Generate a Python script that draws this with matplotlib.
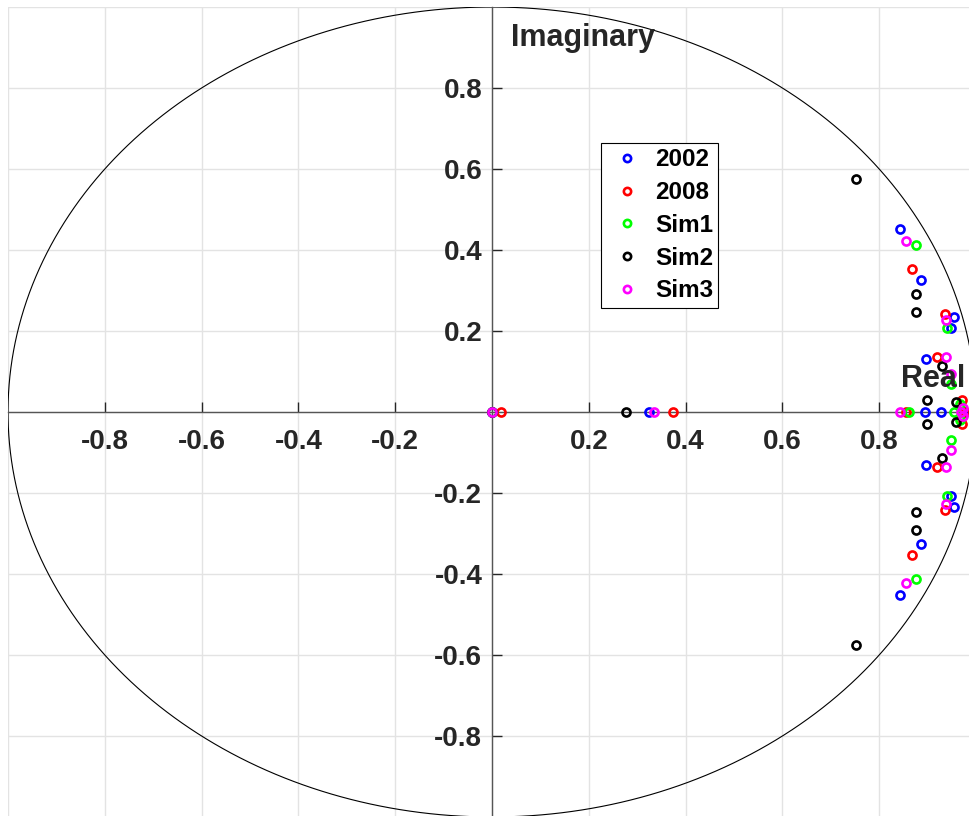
import numpy as np
import matplotlib
matplotlib.use("Agg")
from matplotlib import pyplot as plt

plt.rcParams['font.family'] = ['Liberation Sans', 'DejaVu Sans']

# eigenvalues (real, imag); complex ones come in conjugate pairs
series = ['2002', '2008', 'Sim1', 'Sim2', 'Sim3']
colors = ['#0000ff', '#ff0000', '#00ff00', '#000000', '#ff00ff']

real_2002 = [0.0, 0.324, 0.894, 0.928, 0.975]
pair_re_2002 = [0.842, 0.886, 0.955, 0.948, 0.897]
pair_im_2002 = [0.452, 0.327, 0.235, 0.207, 0.130]

real_2008 = [0.018, 0.374, 0.856, 0.978]
pair_re_2008 = [0.867, 0.936, 0.920, 0.972]
pair_im_2008 = [0.352, 0.241, 0.136, 0.029]

real_sim1 = [0.0, 0.862, 0.955]
pair_re_sim1 = [0.877, 0.940, 0.948, 0.966]
pair_im_sim1 = [0.412, 0.208, 0.070, 0.020]

real_sim2 = [0.0, 0.276]
pair_re_sim2 = [0.753, 0.875, 0.876, 0.929, 0.899, 0.958]
pair_im_sim2 = [0.575, 0.291, 0.246, 0.114, 0.029, 0.024]

real_sim3 = [0.0, 0.334, 0.843, 0.968]
pair_re_sim3 = [0.855, 0.937, 0.937, 0.949, 0.974]
pair_im_sim3 = [0.422, 0.227, 0.137, 0.095, 0.010]

reals = [real_2002, real_2008, real_sim1, real_sim2, real_sim3]
pair_re = [pair_re_2002, pair_re_2008, pair_re_sim1, pair_re_sim2, pair_re_sim3]
pair_im = [pair_im_2002, pair_im_2008, pair_im_sim1, pair_im_sim2, pair_im_sim3]

xticks = [-0.8, -0.6, -0.4, -0.2, 0.2, 0.4, 0.6, 0.8]
yticks = [-0.8, -0.6, -0.4, -0.2, 0.2, 0.4, 0.6, 0.8]
grid_pos = [-1, -0.8, -0.6, -0.4, -0.2, 0, 0.2, 0.4, 0.6, 0.8, 1]

W, H = 969, 816
fig = plt.figure(figsize=(W / 100, H / 100), dpi=100)
ax = fig.add_axes([8 / W, (H - 817) / H, 968 / W, 810 / H])
ax.set_xlim(-1, 1)
ax.set_ylim(-1, 1)

for g in grid_pos:
    ax.axvline(g, color='#e3e3e3', lw=1.0, zorder=0)
    ax.axhline(g, color='#e3e3e3', lw=1.0, zorder=0)

t = np.linspace(0, 2 * np.pi, 600)
ax.plot(np.cos(t), np.sin(t), color='black', lw=0.8, zorder=1)

for name, c, r, pr, pi in zip(series, colors, reals, pair_re, pair_im):
    re = list(r) + list(pr) + list(pr)
    im = [0.0] * len(r) + list(pi) + [-v for v in pi]
    ax.plot(re, im, 'o', mfc='none', mec=c, ms=5.8, mew=1.9, label=name, zorder=3)

for s in ['top', 'right']:
    ax.spines[s].set_visible(False)
ax.spines['left'].set_position(('data', 0))
ax.spines['bottom'].set_position(('data', 0))
for s in ['left', 'bottom']:
    ax.spines[s].set_color('#555555')
    ax.spines[s].set_linewidth(1.0)
    ax.spines[s].set_zorder(2)

ax.set_xticks(xticks)
ax.set_yticks(yticks)
ax.set_xticklabels([f'{v:g}' for v in xticks])
ax.set_yticklabels([f'{v:g}' for v in yticks])
ax.tick_params(axis='both', direction='in', length=7, width=1, color='#262626',
               labelsize=20, labelcolor='#262626')
ax.tick_params(axis='x', pad=12)
ax.tick_params(axis='y', pad=7)
for lab in ax.get_xticklabels() + ax.get_yticklabels():
    lab.set_fontweight('bold')

ax.text(0.0386, 0.904, 'Imaginary', fontsize=22, fontweight='bold', color='#262626',
        ha='left', va='baseline', zorder=4)
ax.text(0.845, 0.0625, 'Real', fontsize=22, fontweight='bold', color='#262626',
        ha='left', va='baseline', zorder=4)

leg = ax.legend(loc='upper left', bbox_to_anchor=(593 / 968, 1 - 136 / 810),
                prop={'weight': 'bold', 'size': 17.5}, frameon=True, fancybox=False,
                edgecolor='black', framealpha=1, borderpad=0.22, labelspacing=0.4,
                handlelength=1.7, handletextpad=0.3, markerscale=0.9, borderaxespad=0)
leg.get_frame().set_linewidth(0.8)

fig.savefig('out.png', dpi=100)
